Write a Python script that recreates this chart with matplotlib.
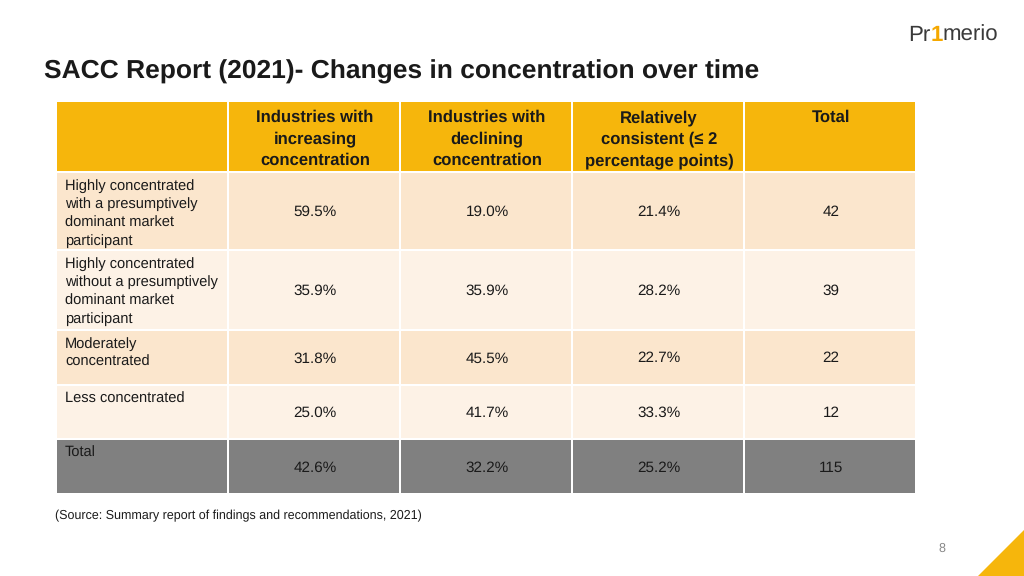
import matplotlib.pyplot as plt
from matplotlib.patches import Rectangle, Polygon

plt.rcParams['font.family'] = ['Liberation Sans', 'DejaVu Sans']
plt.rcParams['text.hinting'] = 'no_hinting'

title = "SACC Report (2021)- Changes in concentration over time"
col_labels = ["Industries with\nincreasing\nconcentration",
              "Industries with\ndeclining\nconcentration",
              "Relatively\nconsistent (\u2264 2\npercentage points)",
              "Total"]
row_labels = ["Highly concentrated\nwith a presumptively\ndominant market\nparticipant",
              "Highly concentrated\nwithout a presumptively\ndominant market\nparticipant",
              "Moderately\nconcentrated",
              "Less concentrated",
              "Total"]
values = [["59.5%", "19.0%", "21.4%", "42"],
          ["35.9%", "35.9%", "28.2%", "39"],
          ["31.8%", "45.5%", "22.7%", "22"],
          ["25.0%", "41.7%", "33.3%", "12"],
          ["42.6%", "32.2%", "25.2%", "115"]]
source = "(Source: Summary report of findings and recommendations, 2021)"

# layout in pixels
col_edges = [57, 229, 401, 573, 745, 917]
row_edges = [(102, 171), (173, 249), (251, 329), (331, 384), (386, 438), (440, 493)]
gap = 2
header_c = "#F6B60C"
row_cs = ["#FBE6CD", "#FDF2E6", "#FBE6CD", "#FDF2E6", "#808080"]

fig = plt.figure(figsize=(10.24, 5.76), dpi=100)
ax = fig.add_axes([0, 0, 1, 1])
ax.set_xlim(0, 1024)
ax.set_ylim(576, 0)
ax.axis('off')

ax.text(44, 72, title, fontsize=19, fontweight='bold', color='#1a1a1a', va='center', ha='left')

# header row
top, bot = row_edges[0]
for j in range(5):
    x0, x1 = col_edges[j], col_edges[j + 1]
    ax.add_patch(Rectangle((x0, top), x1 - x0 - gap, bot - top, color=header_c, lw=0))
    if j > 0:
        ax.text((x0 + x1) / 2, top + 8, col_labels[j - 1], ha='center', va='top',
                fontsize=12, fontweight='bold', color='#1a1a1a', linespacing=1.45)

# body rows
for i, lab in enumerate(row_labels):
    top, bot = row_edges[i + 1]
    for j in range(5):
        x0, x1 = col_edges[j], col_edges[j + 1]
        ax.add_patch(Rectangle((x0, top), x1 - x0 - gap, bot - top, color=row_cs[i], lw=0))
    ax.text(65, top + 6, lab, ha='left', va='top', fontsize=10.5, color='#1a1a1a', linespacing=1.4)
    for j, v in enumerate(values[i]):
        x0, x1 = col_edges[j + 1], col_edges[j + 2]
        ax.text((x0 + x1) / 2, (top + bot) / 2 + 1, v, ha='center', va='center',
                fontsize=11, color='#1a1a1a')

ax.text(55, 516, source, ha='left', va='center', fontsize=9, color='#1a1a1a')

# logo
lx = 908
t1 = ax.text(lx, 35, "Pr", fontsize=16, color='#3a3a3a', va='center', ha='left')
fig.canvas.draw()
r = fig.canvas.get_renderer()
bb = t1.get_window_extent(r)
x2 = lx + bb.width
t2 = ax.text(x2, 35, "1", fontsize=16, color='#F5A800', fontweight='bold', va='center', ha='left')
bb2 = t2.get_window_extent(r)
ax.text(x2 + bb2.width, 35, "merio", fontsize=16, color='#3a3a3a', va='center', ha='left')

# page number and corner
ax.text(942, 549, "8", fontsize=9, color='#888888', ha='center', va='center')
ax.add_patch(Polygon([(978, 576), (1024, 530), (1024, 576)], closed=True, color='#F6B60C', lw=0))

fig.savefig("out.png", dpi=100)
